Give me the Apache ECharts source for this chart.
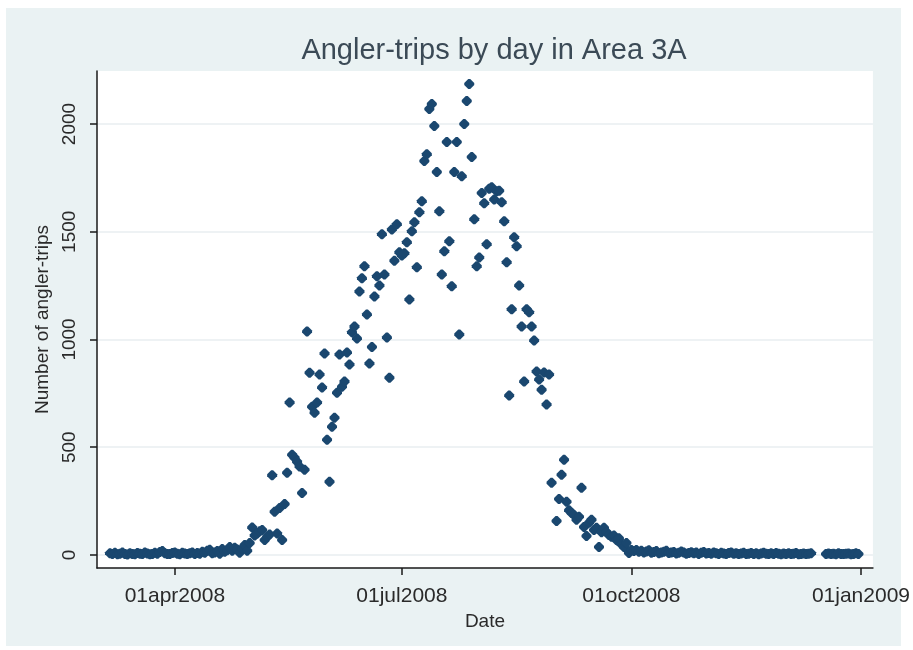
<!DOCTYPE html>
<html>
<head>
<meta charset="utf-8">
<script src="https://cdn.jsdelivr.net/npm/echarts@6/dist/echarts.min.js"></script>
<style>
  html, body { margin: 0; padding: 0; background: #ffffff; }
  #chart { width: 913px; height: 650px; }
</style>
</head>
<body>
<div id="chart"></div>
<script>
// Daily angler-trips, one value per day starting 6 Mar 2008 (null = no survey that day)
const firstDay = [2008, 2, 6];

const tripsMar = [8, 5, 10, 3, 6, 12, 4, 2, 8, 5, 3, 9, 6, 4, 11, 7, 3, 5, 10, 6, 14, 18, 8, 5, 4, 9];
const tripsApr = [12, 6, 3, 10, 7, 5, 8, 12, 4, 9, 6, 15, 10, 20, 24, 8, 12, 18, 6, 28,
                  15, 22, 37, 20, 33, 25, 10, 30, 46, 20];
const tripsMay = [55, 128, 90, 100, 110, 116, 70, 84, 95, 370, 200, 100, 218, 70, 237, 381, 707, 465, 451, 433,
                  410, 288, 395, 1037, 846, 688, 660, 707, 837, 777, 935];
const tripsJun = [535, 340, 595, 637, 753, 930, 781, 805, 940, 884, 1033, 1060, 1005, 1223, 1284, 1340, 1116, 888, 965, 1200,
                  1293, 1250, 1488, 1302, 1009, 823, 1511, 1365, 1535, 1405];
const tripsJul = [1390, 1400, 1451, 1186, 1502, 1544, 1335, 1591, 1642, 1828, 1860, 2070, 2093, 1991, 1777, 1595, 1302, 1409, 1916, 1456,
                  1247, 1777, 1916, 1023, 1758, 2000, 2107, 2186, 1847, 1558, 1340];
const tripsAug = [1380, 1680, 1632, 1442, 1700, 1707, 1650, 1688, 1690, 1637, 1549, 1358, 740, 1140, 1474, 1433, 1251, 1060, 805, 1140,
                  1126, 1060, 995, 851, 814, 767, 847, 698, 837, 335, null];
const tripsSep = [158, 260, 372, 442, 247, 207, 195, 185, 163, 177, 312, 130, 88, 149, 163, 116, 126, 37, 105, 126,
                  107, 93, 84, 90, 70, 77, 50, 37, 56, 9];
const tripsOct = [23, 18, 23, 15, 20, 12, 16, 22, 10, 14, 18, 8, 12, 15, 20, 9, 11, 14, 7, 10,
                  16, 12, 6, 9, 13, 8, 11, 5, 10, 14, 7];
const tripsNov = [9, 6, 12, 8, 5, 10, 7, 4, 9, 11, 6, 8, 5, 7, 10, 4, 6, 9, 5, 8,
                  3, 7, 10, 6, 4, 8, 5, 9, 6, 3];
const tripsDec = [7, 5, 8, 4, 6, 9, 3, 5, 7, 4, 6, 8, null, null, null, null, null, 5, 7, 4,
                  6, 3, 8, 5, 4, 6, 7, 3, 5, 8, 4];

const xTickDates = [[2008, 3, 1], [2008, 6, 1], [2008, 9, 1], [2009, 0, 1]];
const yTickValues = [0, 500, 1000, 1500, 2000];
const monthNames = ['jan', 'feb', 'mar', 'apr', 'may', 'jun', 'jul', 'aug', 'sep', 'oct', 'nov', 'dec'];

const DAY = 86400000;
const utc = d => Date.UTC(d[0], d[1], d[2]);
const start = utc(firstDay);

const trips = [].concat(tripsMar, tripsApr, tripsMay, tripsJun, tripsJul, tripsAug,
                        tripsSep, tripsOct, tripsNov, tripsDec);
const points = [];
trips.forEach((v, i) => { if (v !== null) points.push([start + i * DAY, v]); });

const xTicks = xTickDates.map(utc);
const jan1 = Date.UTC(2008, 0, 1);

// Stata-style %td date label, e.g. 01apr2008
function stataDate(ts) {
  const d = new Date(ts);
  const dd = String(d.getUTCDate()).padStart(2, '0');
  return dd + monthNames[d.getUTCMonth()] + d.getUTCFullYear();
}

const font = "'Liberation Sans', Arial, sans-serif";
const ink = '#2a2a2a';
// rounded diamond marker
const markerPath = 'path://M4,0 L6,0 L10,4 L10,6 L6,10 L4,10 L0,6 L0,4 Z';

const chart = echarts.init(document.getElementById('chart'), null, { renderer: 'canvas' });
chart.setOption({
  backgroundColor: '#ffffff',
  animation: false,
  graphic: [{
    type: 'rect', z: -10, silent: true,
    shape: { x: 6, y: 8, width: 895, height: 638 },
    style: { fill: '#eaf2f3' }
  }],
  title: {
    text: 'Angler-trips by day in Area 3A',
    left: 489, top: 31, textAlign: 'center',
    textStyle: { fontFamily: font, fontSize: 29, fontWeight: 'normal', color: '#3b4a56' }
  },
  grid: {
    left: 97, right: 36, top: 71, bottom: 82,
    show: true, backgroundColor: '#ffffff', borderWidth: 0
  },
  xAxis: {
    type: 'value',
    min: jan1 + 59.8 * DAY,
    max: jan1 + 370.8 * DAY,
    name: 'Date', nameLocation: 'middle', nameGap: 37,
    nameTextStyle: { fontFamily: font, fontSize: 19, color: ink },
    axisLine: { show: true, onZero: false, lineStyle: { color: '#1a1a1a', width: 1.5 } },
    axisTick: { show: true, customValues: xTicks, length: 7, lineStyle: { color: '#1a1a1a', width: 1.5 } },
    axisLabel: {
      customValues: xTicks, margin: 18,
      fontFamily: font, fontSize: 21, color: ink,
      formatter: v => stataDate(v)
    },
    splitLine: { show: false }
  },
  yAxis: {
    type: 'value',
    min: -60.5, max: 2246,
    name: 'Number of angler-trips', nameLocation: 'middle', nameGap: 44, nameRotate: 90,
    nameTextStyle: { fontFamily: font, fontSize: 19, color: ink },
    axisLine: { show: true, onZero: false, lineStyle: { color: '#1a1a1a', width: 1.5 } },
    axisTick: { show: true, customValues: yTickValues, length: 7, lineStyle: { color: '#1a1a1a', width: 1.5 } },
    axisLabel: {
      customValues: yTickValues, rotate: 90, margin: 18,
      fontFamily: font, fontSize: 19, color: ink,
      formatter: v => String(v)
    },
    splitLine: { show: true, lineStyle: { color: '#e8eef1', width: 1.5 } }
  },
  series: [{
    type: 'scatter',
    data: points,
    symbol: markerPath,
    symbolSize: 10,
    itemStyle: { color: '#1a476f', opacity: 1 }
  }]
});
</script>
</body>
</html>
